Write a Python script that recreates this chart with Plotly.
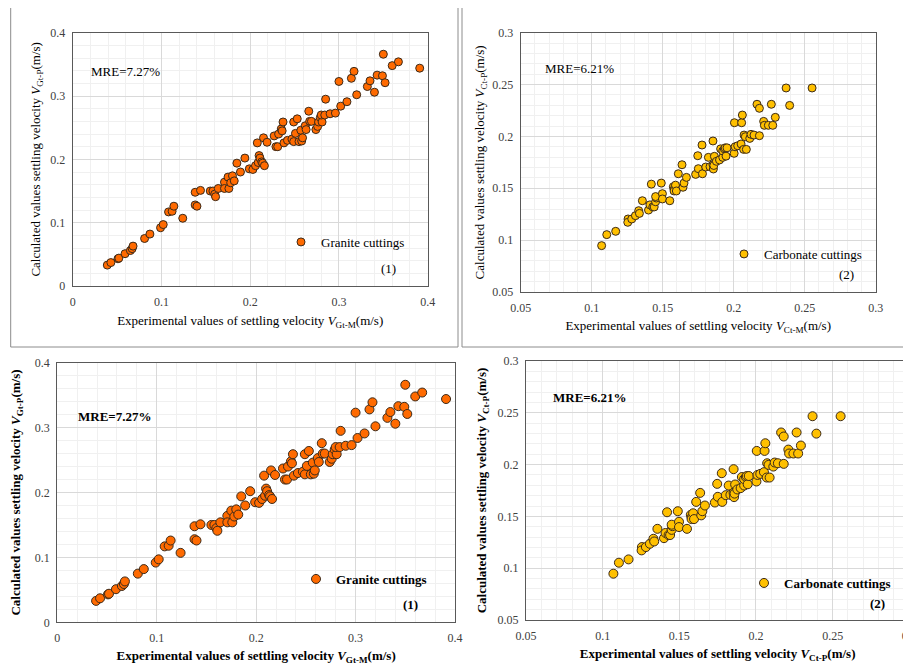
import plotly.graph_objects as go

# ---------------- data ----------------
granite_x = [0.039, 0.043, 0.051, 0.052, 0.059, 0.065, 0.067, 0.068, 0.081, 0.087,
             0.099, 0.102, 0.108, 0.112, 0.114, 0.124, 0.138, 0.138, 0.140, 0.144,
             0.155, 0.158, 0.160, 0.161, 0.164, 0.171, 0.171, 0.175, 0.176, 0.178,
             0.180, 0.182, 0.185, 0.189, 0.194, 0.199, 0.203, 0.206, 0.208, 0.209,
             0.210, 0.211, 0.213, 0.214, 0.215, 0.216, 0.219, 0.227, 0.229, 0.231,
             0.232, 0.235, 0.236, 0.237, 0.238, 0.242, 0.247, 0.249, 0.249, 0.251,
             0.253, 0.255, 0.257, 0.258, 0.259, 0.262, 0.263, 0.266, 0.267, 0.269,
             0.274, 0.276, 0.277, 0.279, 0.281, 0.280, 0.284, 0.285, 0.290, 0.296,
             0.300, 0.302, 0.309, 0.314, 0.317, 0.320, 0.332, 0.335, 0.340, 0.343,
             0.349, 0.350, 0.352, 0.360, 0.367, 0.391]
granite_y = [0.033, 0.037, 0.043, 0.044, 0.051, 0.056, 0.059, 0.063, 0.075, 0.082,
             0.092, 0.097, 0.117, 0.118, 0.126, 0.107, 0.148, 0.128, 0.126, 0.151,
             0.150, 0.150, 0.145, 0.141, 0.154, 0.164, 0.154, 0.172, 0.154, 0.163,
             0.174, 0.166, 0.194, 0.180, 0.202, 0.185, 0.184, 0.190, 0.226, 0.195,
             0.206, 0.202, 0.196, 0.194, 0.234, 0.190, 0.227, 0.237, 0.220, 0.220,
             0.240, 0.248, 0.245, 0.259, 0.226, 0.230, 0.232, 0.228, 0.259, 0.241,
             0.264, 0.228, 0.246, 0.229, 0.234, 0.253, 0.247, 0.276, 0.260, 0.260,
             0.247, 0.252, 0.259, 0.266, 0.259, 0.270, 0.270, 0.295, 0.272, 0.273,
             0.323, 0.284, 0.291, 0.328, 0.339, 0.302, 0.315, 0.324, 0.306, 0.333,
             0.332, 0.366, 0.321, 0.348, 0.354, 0.344]

carbonate_x = [0.107, 0.1106, 0.1169, 0.1256, 0.1254, 0.1282, 0.1308, 0.1331, 0.1336, 0.1357,
               0.140, 0.141, 0.142, 0.143, 0.144, 0.145, 0.1455, 0.145, 0.149, 0.1498,
               0.1498, 0.155, 0.1575, 0.158, 0.158, 0.159, 0.1596, 0.161, 0.1636, 0.1643,
               0.165, 0.1667, 0.1732, 0.1747, 0.1751, 0.1777, 0.178, 0.1803, 0.1822, 0.1833,
               0.1854, 0.1854, 0.1857, 0.186, 0.1864, 0.1878, 0.190, 0.1908, 0.1923, 0.1923,
               0.1934, 0.194, 0.1946, 0.1953, 0.2003, 0.2005, 0.201, 0.2028, 0.2052, 0.2056,
               0.2061, 0.207, 0.2073, 0.2082, 0.2089, 0.2113, 0.2122, 0.2143, 0.2164, 0.2181,
               0.2181, 0.2211, 0.2216, 0.2244, 0.2265, 0.2275, 0.2293, 0.2369, 0.2394, 0.2552]
carbonate_y = [0.0947, 0.1053, 0.1085, 0.1204, 0.1172, 0.1204, 0.1236, 0.1284, 0.1258, 0.138,
               0.129, 0.134, 0.154, 0.132, 0.132, 0.137, 0.1406, 0.142, 0.155, 0.1448,
               0.1397, 0.138, 0.1515, 0.149, 0.1474, 0.153, 0.1474, 0.164, 0.1727, 0.151,
               0.155, 0.1605, 0.1634, 0.1814, 0.1689, 0.1917, 0.164, 0.1705, 0.1798, 0.1708,
               0.1956, 0.1727, 0.1686, 0.172, 0.1808, 0.176, 0.1773, 0.188, 0.1798, 0.186,
               0.188, 0.189, 0.181, 0.189, 0.1837, 0.2132, 0.190, 0.191, 0.1927, 0.2132,
               0.2206, 0.1875, 0.2013, 0.1997, 0.1875, 0.1981, 0.202, 0.2013, 0.231, 0.2271,
               0.2007, 0.2145, 0.2107, 0.2107, 0.231, 0.2107, 0.2184, 0.2467, 0.2299, 0.2467]

# ---------------- layout helpers ----------------
W, H = 911, 667
OFF = 8  # the page body adds an 8px margin around the figure
SERIF = "Times New Roman, Liberation Serif, serif"


def px(x):
    return (x - OFF) / W


def py(y):
    return 1 - (y - OFF) / H


granite_color = "#FF6A00"
carbonate_color = "#FFC000"
edge_color = "#3b2a1a"

fig = go.Figure()

panels = [
    dict(xs=granite_x, ys=granite_y, name="Granite cuttings", color=granite_color, size=8,
         ax="x", ay="y", leg="legend"),
    dict(xs=carbonate_x, ys=carbonate_y, name="Carbonate cuttings", color=carbonate_color, size=8,
         ax="x2", ay="y2", leg="legend2"),
    dict(xs=granite_x, ys=granite_y, name="Granite cuttings", color=granite_color, size=9,
         ax="x3", ay="y3", leg="legend3"),
    dict(xs=carbonate_x, ys=carbonate_y, name="Carbonate cuttings", color=carbonate_color, size=9,
         ax="x4", ay="y4", leg="legend4"),
]

for p in panels:
    fig.add_trace(go.Scatter(
        x=p["xs"], y=p["ys"], mode="markers", name=p["name"], showlegend=True,
        xaxis=p["ax"], yaxis=p["ay"], legend=p["leg"],
        marker=dict(color=p["color"], size=p["size"],
                    line=dict(color=edge_color, width=1)),
    ))


def axis(domain, rng, dtick, minor, title, bold, anchor, standoff):
    return dict(
        domain=domain, range=rng, dtick=dtick, tick0=0, anchor=anchor,
        automargin=False,
        showgrid=True, gridcolor="#d9d9d9", gridwidth=1,
        minor=dict(dtick=minor, showgrid=True, gridcolor="#f0f0f0", gridwidth=1),
        showline=True, mirror=True, linecolor="#595959", linewidth=1.2,
        zeroline=False, ticks="outside", ticklen=4, tickcolor="rgba(0,0,0,0)",
        tickfont=dict(family=SERIF, size=12, color="#404040"),
        title=dict(text=title, standoff=standoff,
                   font=dict(family=SERIF, size=13, color="#000000",
                             weight="bold" if bold else "normal")),
    )


yt_g = "Calculated values settling velocity <i>V</i><sub>Gt-P</sub>(m/s)"
xt_g = "Experimental values of settling velocity <i>V</i><sub>Gt-M</sub>(m/s)"
yt_c = "Calculated values settling velocity <i>V</i><sub>Ct-P</sub>(m/s)"
xt_c = "Experimental values of settling velocity <i>V</i><sub>Ct-M</sub>(m/s)"
xt_c2 = "Experimental values of settling velocity <i>V</i><sub>Ct-P</sub>(m/s)"

layout = dict(
    width=W, height=H,
    margin=dict(l=0, r=0, t=0, b=0),
    showlegend=True,
    paper_bgcolor="white", plot_bgcolor="white",
    xaxis=axis([px(72.7), px(427.7)], [0, 0.4], 0.1, 0.02, xt_g, False, "y", 8),
    yaxis=axis([py(286), py(32.7)], [0, 0.4], 0.1, 0.02, yt_g, False, "x", 6),
    xaxis2=axis([px(520.7), px(875.7)], [0.05, 0.3], 0.05, 0.01, xt_c, False, "y2", 7),
    yaxis2=axis([py(292), py(32.7)], [0.05, 0.3], 0.05, 0.01, yt_c, False, "x2", 4),
    xaxis3=axis([px(57.3), px(455)], [0, 0.4], 0.1, 0.02, xt_g, True, "y3", 7),
    yaxis3=axis([py(622.3), py(362.7)], [0, 0.4], 0.1, 0.02, yt_g, True, "x3", 13),
    xaxis4=axis([px(526), px(909.3)], [0.05, 0.3], 0.05, 0.01, xt_c2, True, "y4", 7),
    yaxis4=axis([py(620), py(361)], [0.05, 0.3], 0.05, 0.01, yt_c, True, "x4", 7),
)


def legend(x, y, bold):
    return dict(x=px(x), y=py(y), xanchor="left", yanchor="middle", visible=True,
                bgcolor="rgba(0,0,0,0)", borderwidth=0, itemwidth=30,
                font=dict(family=SERIF, size=13, color="#000000",
                          weight="bold" if bold else "normal"))


layout["legend"] = legend(281, 242, False)
layout["legend2"] = legend(724, 254, False)
layout["legend3"] = legend(296, 579, True)
layout["legend4"] = legend(744, 583, True)
fig.update_layout(**layout)

# panel frames of the upper row
for x0, x1 in [(10.7, 458), (462, 909)]:
    fig.add_shape(type="rect", xref="paper", yref="paper",
                  x0=px(x0), x1=px(x1), y0=py(347), y1=py(6),
                  line=dict(color="#8c8c8c", width=1), fillcolor="rgba(0,0,0,0)",
                  layer="below")

# texts
notes = [
    ("MRE=7.27%", 89, 72, "left", False),
    ("(1)", 388, 268, "center", False),
    ("MRE=6.21%", 543, 68, "left", False),
    ("(2)", 846, 274, "center", False),
    ("MRE=7.27%", 76, 416, "left", True),
    ("(1)", 410, 604, "center", True),
    ("MRE=6.21%", 551, 397, "left", True),
    ("(2)", 877, 603, "center", True),
]
for text, x, y, anchor, bold in notes:
    fig.add_annotation(text=text, xref="paper", yref="paper", x=px(x), y=py(y),
                       xanchor=anchor, yanchor="middle", showarrow=False,
                       font=dict(family=SERIF, size=13, color="#000000",
                                 weight="bold" if bold else "normal"))

fig.write_html("out.html")
